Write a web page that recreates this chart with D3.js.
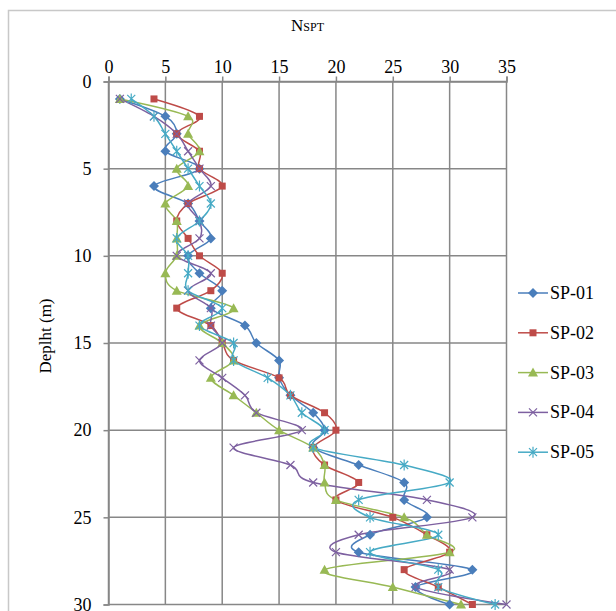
<!DOCTYPE html>
<meta charset="utf-8">
<style>
  body { margin: 0; background: #fff; }
  text { font-family: "Liberation Serif", "Times New Roman", serif; fill: #000; }
</style>
<svg width="616" height="611"></svg>
<script src="https://d3js.org/d3.v7.min.js"></script>
<script>

var depths = d3.range(1, 31);

var sp01 = [1, 5, 6, 5, 8, 4, 7, 8, 9, 7, 8, 10, 9, 12, 13, 15, 15, 16, 18, 19, 18, 22, 26, 26, 28, 23, 22, 32, 27, 30];
var sp02 = [4, 8, 6, 8, 8, 10, 7, 6, 7, 8, 10, 9, 6, 9, 10, 11, 15, 16, 19, 20, 18, 19, 22, 20, 25, 28, 30, 26, 29, 32];
var sp03 = [1, 7, 7, 8, 6, 7, 5, 6, 6, 6, 5, 6, 11, 8, 10, 11, 9, 11, 13, 15, 18, 19, 19, 20, 26, 28, 30, 19, 25, 31];
var sp04 = [1, 4, 6, 7, 8, 9, 7, 8, 8, 6, 9, 7, 9, 9, 10, 8, 10, 12, 13, 17, 11, 16, 18, 28, 32, 22, 20, 30, 27, 35];
var sp05 = [2, 4, 5, 6, 7, 8, 9, 8, 6, 7, 7, 7, 10, 8, 11, 11, 14, 16, 17, 19, 18, 26, 30, 22, 23, 29, 23, 29, 29, 34];

var seriesNames = ["SP-01", "SP-02", "SP-03", "SP-04", "SP-05"];
var seriesValues = [sp01, sp02, sp03, sp04, sp05];
var colors = ["#4a7ebb", "#be4b48", "#98b954", "#7d60a0", "#46aac5"];
var symbols = ["diamond", "square", "triangle", "cross", "star"];

var xTicks = [0, 5, 10, 15, 20, 25, 30, 35];
var yTicks = [0, 5, 10, 15, 20, 25, 30];

var svg = d3.select("svg");

// chart area border
svg.append("rect")
    .attr("x", 8.5).attr("y", 10.5)
    .attr("width", 640).attr("height", 640)
    .attr("fill", "none").attr("stroke", "#c8c8c8").attr("stroke-width", 1.5);

var x = d3.scaleLinear().domain([0, 35]).range([108.5, 506.5]),
    y = d3.scaleLinear().domain([0, 30]).range([81.5, 604.5]);

var grid = svg.append("g");
grid.selectAll(".vx").data(xTicks).enter().append("line")
    .attr("x1", x).attr("x2", x)
    .attr("y1", y(0)).attr("y2", y(30))
    .attr("stroke", "#878787").attr("stroke-width", 1.5);
grid.selectAll(".hy").data(yTicks).enter().append("line")
    .attr("x1", x(0)).attr("x2", x(35))
    .attr("y1", y).attr("y2", y)
    .attr("stroke", "#878787").attr("stroke-width", 1.5);

var xAxis = svg.append("g")
    .attr("transform", "translate(0," + y(0) + ")")
    .call(d3.axisTop(x).tickValues(xTicks).tickSize(5).tickPadding(4));
var yAxis = svg.append("g")
    .attr("transform", "translate(" + x(0) + ",0)")
    .call(d3.axisLeft(y).tickValues(yTicks).tickSize(5).tickPadding(12));

[xAxis, yAxis].forEach(function(a) {
  a.select(".domain").attr("stroke", "#878787").attr("stroke-width", 1.5);
  a.selectAll(".tick line").attr("stroke", "#878787").attr("stroke-width", 1.5);
  a.selectAll("text").style("font-family", "Liberation Serif").style("font-size", "18px").attr("fill", "#000");
});

// titles
var xt = svg.append("text")
    .attr("x", x(17.5)).attr("y", 31)
    .attr("text-anchor", "middle");
xt.append("tspan").style("font-size", "17px").text("N");
xt.append("tspan").style("font-size", "12px").text("SPT");

svg.append("text")
    .attr("transform", "translate(51," + 336 + ")rotate(-90)")
    .attr("text-anchor", "middle")
    .style("font-size", "17px")
    .text("Deplht (m)");

function marker(sel, type, color) {
  if (type === "diamond") {
    sel.append("path").attr("d", "M0,-5L5,0L0,5L-5,0Z").attr("fill", color);
  } else if (type === "square") {
    sel.append("rect").attr("x", -3.5).attr("y", -3.5).attr("width", 7).attr("height", 7).attr("fill", color);
  } else if (type === "triangle") {
    sel.append("path").attr("d", "M0,-5L5,4L-5,4Z").attr("fill", color);
  } else if (type === "cross") {
    sel.append("path").attr("d", "M-4,-4L4,4M-4,4L4,-4").attr("stroke", color).attr("stroke-width", 1.2);
  } else {
    sel.append("path").attr("d", "M-4,-4L4,4M-4,4L4,-4M0,-5.5L0,5.5").attr("stroke", color).attr("stroke-width", 1.2);
  }
}

// Excel style smoothing ~ uniform catmull-rom
var line = d3.line()
    .x(function(d) { return x(d[0]); })
    .y(function(d) { return y(d[1]); })
    .curve(d3.curveCardinal.tension(0));

var plot = svg.append("g");
seriesValues.forEach(function(vals, i) {
  var pts = vals.map(function(v, j) { return [v, depths[j]]; });
  plot.append("path")
      .attr("d", line(pts))
      .attr("fill", "none")
      .attr("stroke", colors[i])
      .attr("stroke-width", 1.5);
});
seriesValues.forEach(function(vals, i) {
  vals.forEach(function(v, j) {
    var g = plot.append("g").attr("transform", "translate(" + x(v) + "," + y(depths[j]) + ")");
    marker(g, symbols[i], colors[i]);
  });
});

// legend
var legend = svg.append("g");
seriesNames.forEach(function(name, i) {
  var ly = 293 + i * 39.8;
  legend.append("line")
      .attr("x1", 518).attr("x2", 548)
      .attr("y1", ly).attr("y2", ly)
      .attr("stroke", colors[i]).attr("stroke-width", 1.5);
  marker(legend.append("g").attr("transform", "translate(533," + ly + ")"), symbols[i], colors[i]);
  legend.append("text")
      .attr("x", 550).attr("y", ly + 6)
      .style("font-size", "18px")
      .text(name);
});

</script>
